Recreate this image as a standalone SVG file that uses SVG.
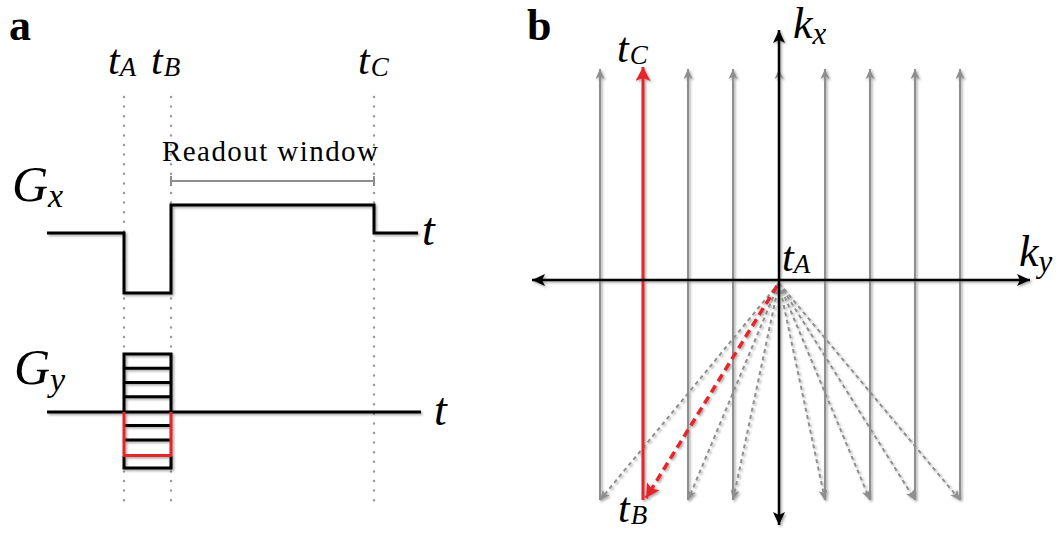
<svg xmlns="http://www.w3.org/2000/svg" width="1062" height="535" viewBox="0 0 1062 535">
<style>
.lbl{font-family:"Liberation Serif","Times New Roman",serif;fill:#000}
.bold{font-weight:bold;font-size:44px}
.m{font-style:italic}
.dot{fill:none;stroke:#9a9a9a;stroke-width:2.5;stroke-dasharray:0 9.6;stroke-linecap:round}
.wave{fill:none;stroke:#000;stroke-width:3;stroke-linejoin:miter}
.red{fill:none;stroke:#e3262b;stroke-width:3}
.gv{fill:none;stroke:#8e8e8e;stroke-width:2}
.gd{fill:none;stroke:#8e8e8e;stroke-width:2;stroke-dasharray:4 3.5}
.rd{fill:none;stroke:#e3262b;stroke-width:3.5;stroke-dasharray:8 5}
.ax{fill:none;stroke:#000;stroke-width:2.5}
</style>
<defs>
<filter id="sh" x="-10%" y="-10%" width="120%" height="120%">
<feDropShadow dx="1.5" dy="1.5" stdDeviation="1.2" flood-color="#000" flood-opacity="0.35"/>
</filter>
<marker id="ga" markerUnits="userSpaceOnUse" markerWidth="12" markerHeight="10" refX="10" refY="5" orient="auto">
<path d="M0,0.5 L10,5 L0,9.5 L2.5,5 z" fill="#8e8e8e"/>
</marker>
<marker id="ra" markerUnits="userSpaceOnUse" markerWidth="16" markerHeight="16" refX="14" refY="7.5" orient="auto">
<path d="M0,0 L14,7.5 L0,15 L3,7.5 z" fill="#e3262b"/>
</marker>
<marker id="ba" markerUnits="userSpaceOnUse" markerWidth="14" markerHeight="12" refX="13" refY="6" orient="auto-start-reverse">
<path d="M0,0 L13,6 L0,12 L3,6 z" fill="#000"/>
</marker>
</defs>

<!-- Panel a -->
<g id="panel-a-label"><text class="lbl bold" x="9" y="40">a</text></g>

<g id="time-markers">
<path class="dot" d="M124,97 V502 M171,97 V502 M374,97 V502"/>
<text class="lbl m" x="108" y="74" font-size="42">t<tspan font-size="27" dy="2">A</tspan></text>
<text class="lbl m" x="151" y="74" font-size="42">t<tspan font-size="27" dy="2" dx="1">B</tspan></text>
<text class="lbl m" x="358" y="74" font-size="42">t<tspan font-size="27" dy="2" dx="1">C</tspan></text>
</g>

<g id="readout-window">
<text class="lbl" x="162" y="161" font-size="29" textLength="216" lengthAdjust="spacing">Readout window</text>
<path d="M171,181 H374 M171,176 V186 M374,176 V186" fill="none" stroke="#8e8e8e" stroke-width="2"/>
</g>

<g id="gx">
<text class="lbl m" x="12" y="201" font-size="50">G<tspan font-size="34" dy="6">x</tspan></text>
<path class="wave" filter="url(#sh)" d="M47,233 H124 V293 H171 V205 H374 V233 H418"/>
<text class="lbl m" x="422" y="245" font-size="46">t</text>
</g>

<g id="gy">
<text class="lbl m" x="14" y="384" font-size="50">G<tspan font-size="34" dy="7">y</tspan></text>
<g filter="url(#sh)">
<path class="wave" d="M47,412 H421"/>
<path class="wave" d="M124,412 V354 H171 V412 M124,456 V468 H171 V456"/>
<path class="wave" d="M124,368.3 H171 M124,382.5 H171 M124,396.8 H171 M124,425.5 H171 M124,440 H171"/>
<path class="red" d="M124,412 V455.5 H171 V412"/>
</g>
<text class="lbl m" x="434" y="425" font-size="46">t</text>
</g>

<!-- Panel b -->
<g id="panel-b-label"><text class="lbl bold" x="527" y="40">b</text></g>

<g id="connectors" filter="url(#sh)">
<path class="gv" marker-end="url(#ga)" d="M600,500 V69"/>
<path class="gv" marker-end="url(#ga)" d="M688,500 V69"/>
<path class="gv" marker-end="url(#ga)" d="M733,500 V69"/>
<path class="gv" marker-end="url(#ga)" d="M779,500 V69"/>
<path class="gv" marker-end="url(#ga)" d="M825,500 V69"/>
<path class="gv" marker-end="url(#ga)" d="M870,500 V69"/>
<path class="gv" marker-end="url(#ga)" d="M915,500 V69"/>
<path class="gv" marker-end="url(#ga)" d="M960,500 V69"/>
<path class="gd" marker-end="url(#ga)" d="M779,283 L600,500"/>
<path class="gd" marker-end="url(#ga)" d="M779,283 L688,500"/>
<path class="gd" marker-end="url(#ga)" d="M779,283 L733,500"/>
<path class="gd" marker-end="url(#ga)" d="M779,283 L825,500"/>
<path class="gd" marker-end="url(#ga)" d="M779,283 L870,500"/>
<path class="gd" marker-end="url(#ga)" d="M779,283 L915,500"/>
<path class="gd" marker-end="url(#ga)" d="M779,283 L960,500"/>
<path class="red" marker-end="url(#ra)" d="M643,500 V67"/>
<path class="rd" marker-end="url(#ra)" d="M777,286 L646,498"/>
<path class="ax" marker-start="url(#ba)" marker-end="url(#ba)" d="M779,525 V30"/>
<path class="ax" marker-start="url(#ba)" marker-end="url(#ba)" d="M532,280 H1030"/>
</g>

<g id="kspace-labels">
<text class="lbl m" x="793" y="38" font-size="44">k<tspan font-size="31" dy="6">x</tspan></text>
<text class="lbl m" x="1019" y="266" font-size="44">k<tspan font-size="31" dy="6">y</tspan></text>
<text class="lbl m" x="617" y="62" font-size="42">t<tspan font-size="27" dy="2" dx="1">C</tspan></text>
<text class="lbl m" x="782" y="271" font-size="42">t<tspan font-size="27" dy="2">A</tspan></text>
<text class="lbl m" x="618" y="522" font-size="42">t<tspan font-size="27" dy="2" dx="1">B</tspan></text>
</g>
</svg>
